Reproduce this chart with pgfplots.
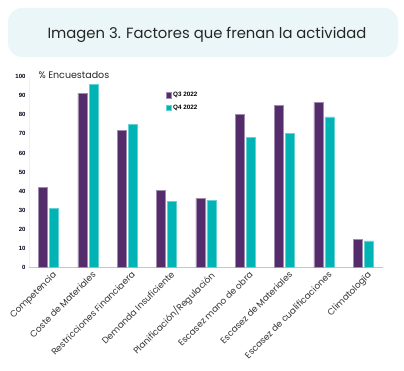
\documentclass[border=0pt]{standalone}
\usepackage{pgfplots}
\pgfplotsset{compat=1.18}
\usepackage{fontspec}
\setmainfont{Poppins}
\newfontfamily\arialb{Liberation Sans}
\definecolor{qthree}{HTML}{542C6B}
\definecolor{qfour}{HTML}{00B3B5}
\definecolor{boxbg}{HTML}{EAF6F8}
\begin{document}
\begin{tikzpicture}
\fill[boxbg, rounded corners=14pt] (8pt,313pt) rectangle (398pt,362pt);
\node[font=\fontsize{14.8}{18}\selectfont, text=black!85] at (207pt,335pt) {Imagen 3. Factores que frenan la actividad};
\begin{axis}[
  at={(29pt,102.7pt)}, anchor=south west,
  scale only axis, width=354pt, height=190.6pt,
  ybar=2pt, bar width=9pt,
  xmin=-0.5, xmax=8.5, ymin=0, ymax=100,
  xtick=data,
  xticklabels={Competencia,Coste de Materiales,Restricciones Financiaera,Demanda Insuficiente,Planificación/Regulación,Escasez mano de obra,Escasez de Materiales,Escasez de cualificaciones,Climatología},
  xticklabel style={xshift=3.5pt, yshift=-3pt, rotate=45, anchor=north east, font=\fontsize{8.9}{9.5}\selectfont, text=black!80, inner sep=0pt},
  ytick={0,10,...,100},
  yticklabel style={font=\arialb\bfseries\fontsize{6}{7}\selectfont, text=black!90!blue},
  /pgf/number format/assume math mode=true,
  major tick length=0pt,
  axis x line*=bottom, axis y line*=left,
  x axis line style={draw=gray!45, line width=0.8pt},
  y axis line style={draw=gray!12, line width=0.6pt},
  axis line style={-},
  legend style={at={(0.387,0.93)}, anchor=north west, draw=none, fill=none,
    font=\arialb\bfseries\fontsize{6.3}{7}\selectfont, row sep=2.5pt, inner sep=0pt,
    legend cell align=left},
  legend image code/.code={\fill[#1] (0pt,-2.6pt) rectangle (4.6pt,2.6pt);},
  clip=false,
]
\addplot[fill=qthree, draw=qthree!55!white, line width=0.4pt] coordinates {
(0,42.1) (1,91.3) (2,71.9) (3,40.2) (4,36.2) (5,80.3) (6,84.8) (7,86.4) (8,14.7)};
\addplot[fill=qfour, draw=qfour!60!white, line width=0.4pt] coordinates {
(0,31.1) (1,96.0) (2,75.0) (3,34.6) (4,35.3) (5,68.0) (6,70.3) (7,78.9) (8,13.8)};
\legend{Q3 2022,Q4 2022}
\end{axis}
\node[anchor=west, font=\fontsize{9.5}{11}\selectfont, text=black!85] at (35pt,295pt) {\% Encuestados};
\pgfresetboundingbox
\useasboundingbox (0,0) rectangle (404pt,370pt);
\end{tikzpicture}
\end{document}
